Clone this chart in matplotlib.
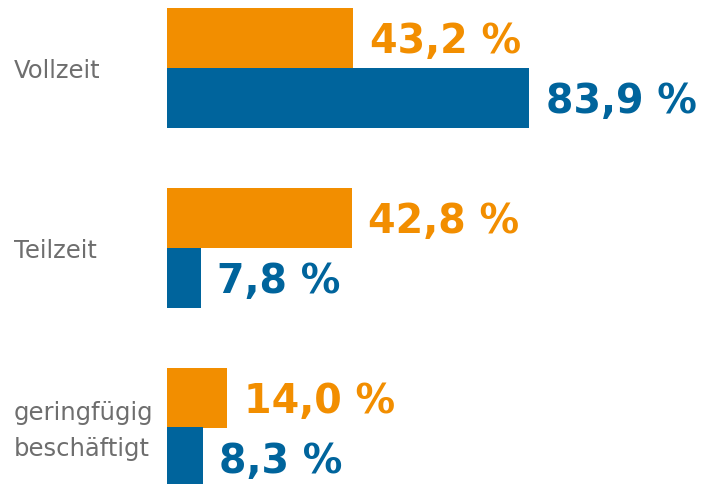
import matplotlib
matplotlib.use("Agg")
import matplotlib.pyplot as plt

categories = ["Vollzeit", "Teilzeit", "geringfügig\nbeschäftigt"]
orange_vals = [43.2, 42.8, 14.0]
blue_vals = [83.9, 7.8, 8.3]

orange = "#F28E00"
blue = "#00649C"
gray = "#6E6E6E"

fig = plt.figure(figsize=(7.15, 4.85), dpi=100)
# axes from the bar origin to the right edge, full height
ax = fig.add_axes([167 / 715, 0, 548 / 715, 1])
ax.set_xlim(0, 548 / 4.315)
ax.set_ylim((485 - 68.5) / 180, -68.5 / 180)
ax.axis("off")

h = 1 / 3
ys = range(len(categories))
for i in ys:
    ax.barh(i - h / 2, orange_vals[i], height=h, color=orange)
    ax.barh(i + h / 2, blue_vals[i], height=h, color=blue)
    for v, y, c in [(orange_vals[i], i - h / 2, orange), (blue_vals[i], i + h / 2, blue)]:
        ax.annotate(f"{v:.1f} %".replace(".", ","), (v, y), xytext=(12, -10.5),
                    textcoords="offset points", va="baseline", ha="left",
                    fontsize=28.5, fontweight="bold", color=c, family="DejaVu Sans")
    ax.annotate(categories[i], (0, i), xytext=(-153 * 0.72, -2),
                textcoords="offset points", ha="left", va="center",
                fontsize=17.5, color=gray, family="DejaVu Sans", linespacing=1.62)

fig.savefig("out.png", dpi=100)
